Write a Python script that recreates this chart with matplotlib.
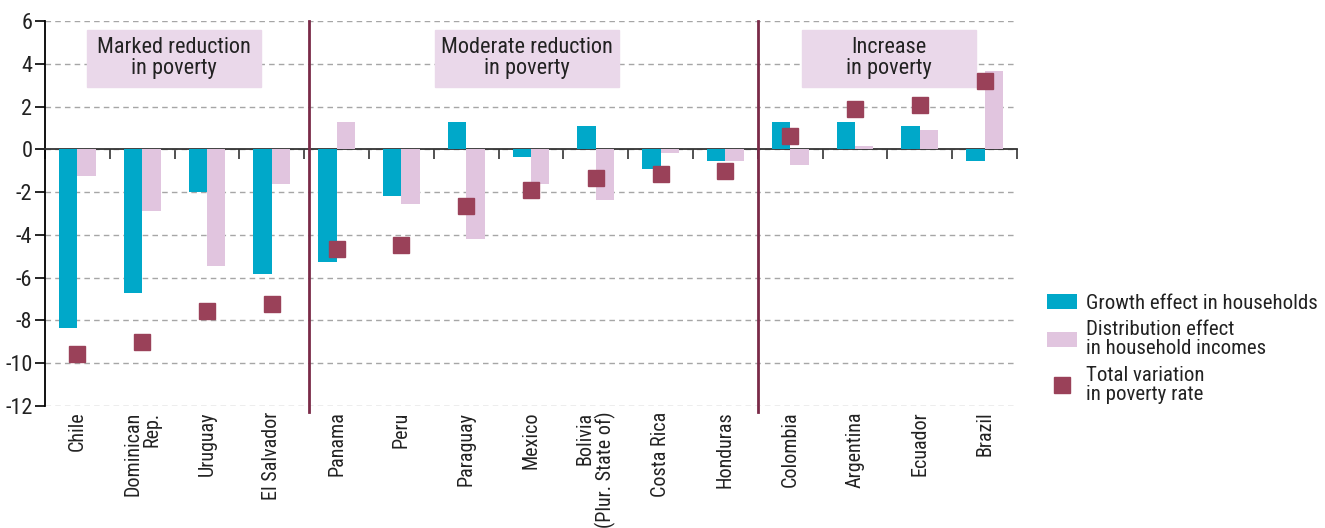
import matplotlib.pyplot as plt
from matplotlib.lines import Line2D
from matplotlib.patches import Patch, Rectangle
import numpy as np

plt.rcParams["font.family"] = ["Roboto Condensed", "Archivo Narrow", "DejaVu Sans"]
plt.rcParams["axes.unicode_minus"] = False

countries = [
    "Chile", "Dominican\nRep.", "Uruguay", "El Salvador", "Panama", "Peru",
    "Paraguay", "Mexico", "Bolivia\n(Plur. State of)", "Costa Rica", "Honduras",
    "Colombia", "Argentina", "Ecuador", "Brazil",
]
growth = [-8.37, -6.73, -2.01, -5.83, -5.27, -2.19, 1.29, -0.35, 1.08, -0.90,
          -0.54, 1.29, 1.29, 1.08, -0.54]
distribution = [-1.27, -2.90, -5.46, -1.64, 1.29, -2.55, -4.18, -1.64, -2.37,
                -0.19, -0.54, -0.72, 0.17, 0.91, 3.64]
total = [-9.58, -9.02, -7.58, -7.21, -4.65, -4.47, -2.66, -1.92, -1.36, -1.17,
         -0.99, 0.64, 1.89, 2.07, 3.19]
groups = ["Marked reduction\nin poverty", "Moderate reduction\nin poverty",
          "Increase\nin poverty"]
legend_labels = ["Growth effect in households",
                 "Distribution effect\nin household incomes",
                 "Total variation\nin poverty rate"]

TEAL = "#00a8c9"
PINK = "#e1c5df"
MAROON = "#9a4159"
SEP = "#7a2a48"
BOX = "#ead8ea"
TEXT = "#222222"

fig = plt.figure(figsize=(13.25, 5.28), dpi=100)
ax = fig.add_axes([45 / 1325, 1 - 406 / 528, (1017 - 45) / 1325, (406 - 21) / 528])

x = np.arange(len(countries))
w = 0.285
ax.bar(x - w / 2, growth, w, color=TEAL, zorder=3)
ax.bar(x + w / 2, distribution, w, color=PINK, zorder=3)
ax.plot(x, total, "s", ms=11.5, color=MAROON, zorder=4)

ax.set_xlim(-0.5, len(countries) - 0.5)
ax.set_ylim(-12, 6)
ax.set_yticks(range(-12, 7, 2))
ax.tick_params(axis="y", labelsize=16, length=7, width=1.2, pad=2,
               labelcolor=TEXT)
ax.yaxis.grid(True, ls=(0, (4, 3)), color="#a6a6a6", lw=1.0)
ax.set_axisbelow(True)

for s in ["top", "right"]:
    ax.spines[s].set_visible(False)
ax.spines["left"].set_linewidth(1.3)
ax.spines["bottom"].set_position(("data", 0))
ax.spines["bottom"].set_linewidth(1.3)
ax.spines["bottom"].set_color("#333333")
ax.set_xticks(np.arange(-0.5, len(countries), 1))
ax.set_xticklabels([])
ax.tick_params(axis="x", length=7, width=1.2, color="#333333")

sec = ax.secondary_xaxis("bottom")
sec.set_xticks(x, labels=countries)
sec.tick_params(length=0, pad=4, labelsize=14.5, labelcolor=TEXT)
sec.spines["bottom"].set_visible(False)
for t in sec.get_xticklabels():
    t.set_rotation(90)
    t.set_multialignment("right")
    t.set_linespacing(1.0)

# group separators
for b in [3.57, 10.5]:
    ax.axvline(b, ymin=-0.016, ymax=1, color=SEP, lw=2, clip_on=False, zorder=5)

# group boxes
box_centers = [1.49, 6.94, 12.53]
box_widths = [2.69, 2.84, 2.69]
for c, bw, g in zip(box_centers, box_widths, groups):
    ax.add_patch(Rectangle((c - bw / 2, 2.91), bw, 2.69, color=BOX, zorder=2))
    ax.text(c, 4.25, g, ha="center", va="center", fontsize=16, linespacing=1.0,
            color=TEXT, zorder=6)

handles = [Patch(facecolor=TEAL), Patch(facecolor=PINK),
           Line2D([], [], marker="s", ls="none", ms=11.5, color=MAROON)]
leg = fig.legend(handles, legend_labels, loc="upper left",
                 bbox_to_anchor=(1047 / 1325, 1 - 294 / 528), frameon=False,
                 fontsize=15, handlelength=1.45, handleheight=0.75,
                 handletextpad=0.4, labelspacing=0.35, borderpad=0,
                 borderaxespad=0, labelcolor=TEXT)
for t in leg.get_texts():
    t.set_linespacing(1.0)

fig.savefig("out.png", dpi=100)
